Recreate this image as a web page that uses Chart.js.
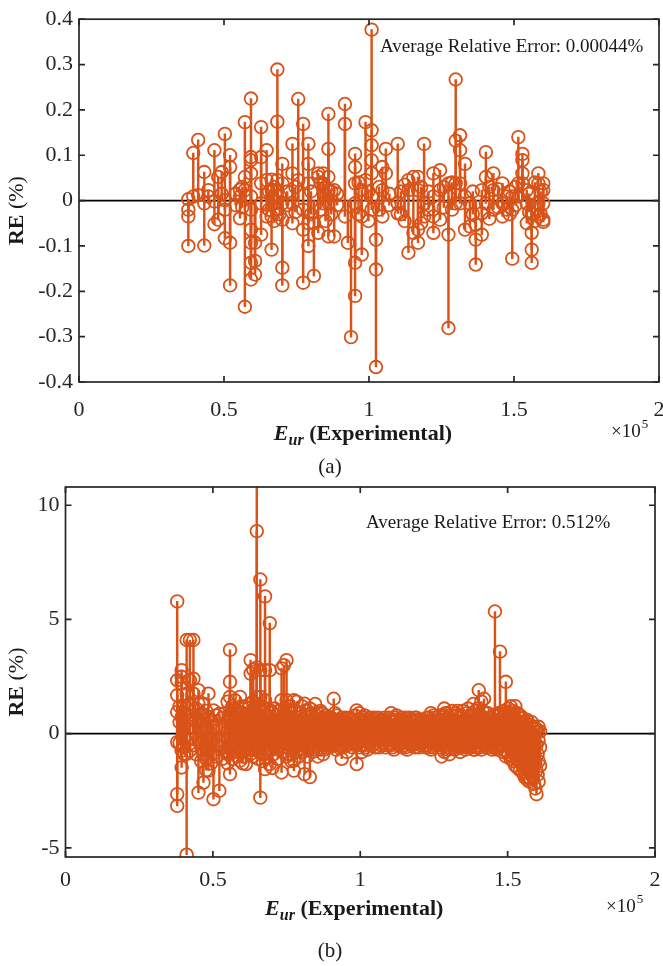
<!DOCTYPE html>
<html>
<head>
<meta charset="utf-8">
<script src="https://cdn.jsdelivr.net/npm/chart.js@4.4.1/dist/chart.umd.min.js"></script>
<style>
  html, body { margin: 0; background: #fff; overflow: hidden; }
  canvas { position: absolute; left: 0; }
</style>
</head>
<body>
<canvas id="chartA" width="700" height="480" style="top:0"></canvas>
<canvas id="chartB" width="700" height="516" style="top:450px"></canvas>
<script>
const ORANGE = '#D95319';
const AXIS = '#262626';
const SERIF = '"Liberation Serif", "Times New Roman", serif';

// panel (a): stem x positions (E_ur) and the RE (%) values drawn at each one
const stemXA = [
  37700, 39400, 41100, 43200, 44600, 46700, 48000, 49200, 50300, 52100,
  54000, 55500, 56300, 57200, 59300, 60700, 62800, 64700, 65500, 66400,
  67300, 68400, 69200, 70100, 71800, 73600, 74600, 75600, 77300, 79100,
  80000, 81000, 82500, 83300, 84200, 85000, 86000, 87000, 88000, 89000,
  91700, 92700, 93800, 95200, 96400, 97500, 98800, 99800, 100900, 102400,
  103500, 104600, 105800, 107000, 109900, 111000, 112300, 113600, 115300, 116900,
  118000, 119000, 120500, 122200, 124500, 125800, 127400, 128600, 129900, 131400,
  133100, 134800, 135800, 136800, 138900, 140300, 141500, 142900, 144500, 146000,
  147500, 148500, 149400, 150500, 151500, 152900, 154400, 155200, 156100, 157200,
  158400, 159200, 160100
];
const stemYA = [
  [0.003, -0.02, -0.035, -0.1], [0.105, 0.009], [0.134, 0.012], [0.063, -0.006, -0.099], [0.023, 0.009],
  [0.111, -0.002, -0.052], [0.052, -0.042], [0.063, 0.015], [0.147, 0.001, -0.02, -0.083], [0.1, 0.074, -0.093, -0.187],
  [0.015, -0.01], [0.024, 0.009, -0.039], [0.03, -0.015], [0.173, 0.052, 0.023, -0.234],
  [0.225, 0.096, 0.089, 0.06, 0.009, -0.02, -0.064, -0.093, -0.137, -0.174],
  [-0.093, -0.133, -0.163], [0.162, 0.096, 0.038, -0.006, -0.075], [0.111, 0.045, -0.035], [0.02, -0.02], [0.046, 0.024, -0.035, -0.108],
  [0.03, -0.045], [0.289, 0.174, 0.045, 0.023, -0.02], [0.01, -0.03], [0.081, 0.038, -0.006, -0.042, -0.148, -0.187], [0.02, -0.01],
  [0.125, 0.06, -0.006, -0.05], [0.03, -0.025], [0.224, 0.045], [0.169, -0.02, -0.064, -0.181], [0.125, 0.081, 0.038, -0.05, -0.1],
  [0.02, -0.03], [-0.05, -0.166], [0.06, 0.052, -0.071], [0.04, -0.02], [0.06, 0.038, -0.006],
  [0.03, -0.045], [0.191, 0.114, 0.052, 0.023, -0.006, -0.079], [0.02, -0.03], [0.023, -0.079], [0.015, -0.01],
  [0.213, 0.169, -0.035], [-0.093], [-0.301], [0.103, 0.074, 0.038, -0.006, -0.137, -0.21], [0.04, -0.03],
  [0.023, -0.035, -0.119], [0.173, 0.045], [0.02, -0.045], [0.377, 0.155, 0.122, 0.089, 0.06, 0.009, -0.02], [-0.086, -0.152, -0.367],
  [0.03, -0.02], [0.074, 0.023, -0.035], [0.114, 0.06], [0.015, -0.01], [0.125, -0.006, -0.028],
  [0.02, -0.03], [0.035, -0.045], [0.045, 0.023, -0.115], [0.052, -0.071], [0.052, 0.023, -0.064, -0.093],
  [0.03, -0.05], [0.125, -0.006, -0.035], [0.02, -0.02], [0.06, 0.009, -0.035, -0.071], [0.067, 0.023, -0.042],
  [0.03, -0.015], [0.038, 0.009, -0.075, -0.281], [0.04, -0.02], [0.267, 0.132, 0.038, -0.006], [0.144, 0.111, 0.038, -0.006],
  [0.081, 0.009, -0.064], [-0.006, -0.057], [0.02, -0.03], [-0.053, -0.086, -0.141], [0.023, -0.028, -0.075],
  [0.107, 0.052, -0.006], [0.03, -0.04], [0.06, 0.023, -0.02], [0.025, -0.015], [0.038, -0.006, -0.035],
  [0.009, -0.02], [0.02, -0.03], [0.009, -0.02, -0.128], [0.03, -0.01], [0.14, 0.038, 0.009],
  [0.103, 0.089, 0.06, 0.038], [0.023, -0.006, -0.05], [0.015, -0.025], [-0.028, -0.071, -0.108, -0.137], [0.04, -0.045],
  [0.06, 0.038, -0.006, -0.035], [0.02, -0.03], [0.038, 0.023, -0.006, -0.042, -0.047]
];

// panel (b)
const stemXB = [
  37900, 38700, 39400, 40300, 41100, 42200, 43400, 44300, 45100, 46000,
  46800, 47700, 48500, 49400, 50200, 51200, 52200, 53200, 54100, 55000,
  55800, 56600, 57500, 58300, 59200, 60100, 61200, 62000, 62800, 63700,
  64900, 65400, 66100, 66900, 67700, 68600, 69300, 70200, 71000, 72000,
  73300, 74100, 75000, 75800, 76600, 77500, 78400, 79300, 80200, 81100,
  82000, 82900, 83800, 84700, 85600, 86500, 87400, 88300, 89200, 90100,
  91000, 91900, 92800, 93700, 94600, 95500, 96400, 97300, 98200, 98800,
  99700, 100600, 101500, 102400, 103300, 104200, 105100, 106000, 106900, 107800,
  108700, 109600, 110500, 111400, 112300, 113200, 114100, 115000, 115900, 116800,
  117700, 118600, 119500, 120400, 121300, 122200, 123100, 124000, 124900, 125800,
  126700, 127600, 128500, 129400, 130300, 131200, 132100, 133000, 133900, 134800,
  135700, 136600, 137500, 138400, 139300, 140200, 141100, 142000, 142900, 143800,
  144700, 145700, 146500, 147400, 148300, 149400, 150200, 151000, 151800, 152600,
  153400, 154200, 155000, 155800, 156600, 157400, 158200, 159000, 159800, 160500,
  161000
];
const stemYB = [
  [5.79, 2.34, 1.68, 0.95, -0.37, -2.65, -3.16], [1.2, 0.5, -0.4], [2.78, 2.49, 2.19, 0.73, -0.74, -1.48], [1.2, 0.4, -0.6, -0.9],
  [4.1, 1.75, 0.87, -0.3, -0.89, -5.3], [4.1, 2.34, 1.31, 0.58, -0.74], [4.1, 2.41, 1.75, 0.3, -0.5], [1.1, 0.6, -0.9],
  [1.9, 1.31, -0.3, -2.58], [0.9, -0.4, -1.2],
  [1.31, 0.58, -0.89, -2.14], [1.0, 0.2, -1.1, -1.6], [1.75, 0.73, -0.74, -1.62], [0.6, -0.3, -1.3], [1.02, 0.29, -0.89, -2.87],
  [0.8, -0.5, -1.0], [0.87, -0.3, -2.5], [0.7, 0.2, -0.6, -1.1], [0.9, 0.29, -0.74], [1.4, 0.5, -0.9, -1.3],
  [3.67, 2.27, 1.61, 0.73, -0.89, -1.77], [1.2, 0.4, -0.5, -1.1], [1.46, 0.87, 0.29, -0.6], [1.0, -0.2, -1.0], [1.61, 0.58, -0.3, -1.18],
  [0.9, 0.3, -0.8, -1.3], [1.17, 0.29, -1.33], [1.1, 0.5, -0.7], [3.22, 2.63, 0.87, 0, -0.89], [2.8, 1.4, 0.6, -1.0],
  [11.8, 8.87, 2.9, 1.6, -0.6], [1.2, 0.3, -1.1], [6.75, 2.78, 1.61, -2.8], [1.0, -0.4, -1.2], [6.01, 2.78, 1.46, -0.89, -1.55],
  [0.8, -0.3], [4.84, 2.78, 0.58, -1.33], [0.9, 0.2, -0.7, -1.5], [1.1, -0.5], [0.6, -0.2, -1.1],
  [2.86, 1.46, 0.14, -1.7], [3.0, 0.8, -0.6], [3.22, 1.46, -0.3, -1.0], [1.2, 0.4, -0.9], [1.0, -0.2, -1.2],
  [1.46, -0.6, -1.18, -1.62], [1.4, 0.5, -0.8], [0.9, -0.3, -1.0], [1.2, 0.3, -0.7], [1.31, -0.5, -1.77],
  [1.0, 0.2, -1.0], [1.1, -0.3, -1.9], [0.8, 0.1, -0.8], [1.3, 0.5, -0.6], [0.9, -0.4, -1.0],
  [1.0, 0.3, -0.7], [0.7, -0.2, -0.9], [0.8, 0.1, -0.6], [0.6, -0.5], [0.7, 0.2, -0.4],
  [1.53, 0.6, -0.5], [0.8, -0.3, -0.7], [0.5, 0.1, -0.6], [0.7, -0.2, -1.1], [0.6, 0.2, -0.5],
  [0.5, -0.4, -0.8], [0.7, 0.1, -0.3], [0.4, -0.6], [0.8, 0.2, -0.4], [1.02, -0.5, -1.33],
  [0.9, 0.3, -0.6], [0.6, -0.3, -0.8], [0.8, 0.1, -0.5], [0.5, -0.2, -0.7], [0.7, 0.3, -0.4],
  [0.6, -0.5], [0.5, 0.1, -0.6], [0.7, -0.3], [0.4, 0.2, -0.5], [0.6, -0.2, -0.4],
  [0.5, 0.1, -0.6], [0.7, -0.4], [0.9, 0.3, -0.5], [0.6, -0.2, -0.7], [0.8, 0.2, -0.4],
  [0.5, -0.5], [0.7, 0.1, -0.6], [0.6, -0.3, -0.5], [0.5, 0.2, -0.7], [0.7, -0.4],
  [0.4, 0.1, -0.5], [0.7, -0.2, -0.6], [0.6, 0.3, -0.4], [0.5, -0.5], [0.6, 0.1, -0.4],
  [0.4, -0.3, -0.6], [0.7, 0.2, -0.5], [0.9, -0.4, -0.7], [0.8, 0.3, -0.6], [0.5, -0.2],
  [0.6, 0.1, -0.5], [0.7, -0.3, -1.0], [1.1, 0.4, -0.8], [0.9, 0.2, -0.6], [0.7, -0.4, -0.9],
  [1.0, 0.3, -0.5], [0.8, -0.2, -0.7], [1.0, 0.4, -0.6], [0.7, -0.3, -0.8], [1.0, 0.2, -0.5],
  [0.6, -0.4, -0.7], [1.1, 0.3, -0.5], [0.8, -0.2, -0.6], [1.3, 0.4, -0.7], [1.0, -0.3, -0.6],
  [1.9, 0.6, -0.5], [1.4, 0.2, -0.7], [1.53, 0.5, -0.4], [0.9, -0.3, -0.6], [0.7, 0.2, -0.5],
  [0.6, -0.4, -0.7], [5.35, 0.5, -0.6], [0.8, -0.3, -0.7], [3.59, 0.9, -0.5], [0.7, 0.2, -0.8],
  [2.27, 0.6, -1.0], [1.1, 0.3, -0.9], [1.2, -0.4, -1.1], [1.0, 0.2, -1.2], [1.2, -0.5, -1.4],
  [0.9, 0.3, -1.5], [0.8, -0.6, -1.6], [0.7, 0.1, -1.7], [0.5, -0.8, -1.9], [0.6, 0.0, -2.0],
  [0.4, -0.9, -2.1], [0.5, -0.2, -1.8], [0.3, -1.1, -2.2], [0.2, -0.5, -1.6, -2.65], [0.3, -0.3, -1.2, -2.1],
  [0.1, -0.6, -1.4]
];
// panel (b), stems lying between the ones above in the dense band
const midXB = [
  55400, 56200, 57100, 57900, 58700, 59600, 60600, 61600, 62400, 63300,
  64300, 65800, 66500, 67300, 68200, 69000, 69800, 70600, 71500, 72600,
  73700, 74500, 75400, 76200, 77000, 78000, 78800, 79800, 80600, 81600,
  82400, 83300, 84200, 85100, 86000, 86900, 87800, 88700, 89600, 90500,
  91400, 92300, 93200, 94100, 95000, 95900, 96800, 97700, 99200, 100100,
  101000, 101900, 102800, 103700, 104600, 105500, 106400, 107300, 108200, 109100,
  110000, 110900, 111800, 112700, 113600, 114500, 115400, 116300, 117200, 118100,
  119000, 119900, 120800, 121700, 122600, 123500, 124400, 125300, 126200, 127100,
  128000, 128900, 129800, 130700, 131600, 132500, 133400, 134300, 135200, 136100,
  137000, 137900, 138800, 139700, 140600, 141500, 142400, 143300, 144200, 145200,
  146000, 146900, 147800, 148800, 149800, 150600, 151400, 152200, 153000, 153800,
  154600, 155400, 156200, 157000, 157800, 158600, 159400, 160200
];
const midYB = [
  [0.8, -0.5], [1.0, -0.7], [0.6, -0.4, 1.1], [0.9, -0.8], [0.4, -0.6], [1.2, -0.4], [0.6, -1.0], [0.8, -0.5], [1.3, -0.3], [0.5, -0.7],
  [1.0, -0.5], [0.7, -0.8], [1.2, -0.5], [0.5, -0.9], [1.1, -0.4], [0.6, -0.7], [1.0, -0.3], [0.4, -0.9], [0.8, -0.6], [1.0, -0.4],
  [0.5, -0.8], [1.1, -0.4], [0.7, -0.6], [0.9, -0.5], [0.6, -0.9], [1.0, -0.4], [0.5, -0.7], [0.9, -0.5], [0.6, -0.8], [1.0, -0.3],
  [0.5, -0.6], [0.9, -0.5], [0.6, -0.4], [0.8, -0.7], [0.5, -0.5], [0.9, -0.4], [0.5, -0.7], [0.7, -0.3], [0.4, -0.6], [0.6, -0.4],
  [0.9, -0.2], [0.4, -0.5], [0.6, -0.3], [0.5, -0.6], [0.7, -0.2], [0.4, -0.5], [0.6, -0.4], [0.5, -0.2], [0.6, -0.4], [0.5, -0.5],
  [0.7, -0.2], [0.4, -0.6], [0.6, -0.4], [0.5, -0.3], [0.7, -0.2], [0.4, -0.4], [0.6, -0.6], [0.5, -0.2], [0.7, -0.3], [0.4, -0.5],
  [0.6, -0.3], [0.5, -0.6], [0.7, -0.3], [0.4, -0.5], [0.6, -0.2], [0.5, -0.4], [0.7, -0.6], [0.4, -0.3], [0.6, -0.5], [0.5, -0.3],
  [0.7, -0.4], [0.4, -0.6], [0.6, -0.2], [0.5, -0.5], [0.7, -0.3], [0.5, -0.6], [0.6, -0.4], [0.7, -0.5], [0.4, -0.4], [0.8, -0.6],
  [0.6, -0.4], [0.9, -0.5], [0.5, -0.7], [0.8, -0.3], [0.6, -0.6], [0.9, -0.4], [0.5, -0.5], [0.8, -0.6], [0.6, -0.3], [0.9, -0.6],
  [0.5, -0.4], [0.9, -0.5], [0.6, -0.7], [1.1, -0.4], [0.8, -0.6], [1.0, -0.3], [0.7, -0.5], [0.9, -0.4], [0.5, -0.6], [0.8, -0.4],
  [0.6, -0.5], [0.9, -0.6], [0.6, -0.4], [1.0, -0.7], [0.7, -0.8], [0.9, -0.6], [0.7, -1.0], [0.9, -0.8], [0.6, -1.1], [0.7, -1.2],
  [0.5, -1.3], [0.4, -1.5], [0.3, -1.4, -1.7], [0.2, -1.2, -1.9], [0.1, -1.0, -2.0], [0.3, -0.8, -1.9], [0.2, -1.3, -2.4], [0.1, -0.9, -1.8]
];

const xTicks = [0, 50000, 100000, 150000, 200000];
const yTicksA = [-0.4, -0.3, -0.2, -0.1, 0, 0.1, 0.2, 0.3, 0.4];
const yTicksB = [-5, 0, 5, 10];

function toPoints(xs, ys) {
  const pts = [];
  xs.forEach((x, i) => ys[i].forEach(v => pts.push({ x: x, y: v })));
  return pts;
}

// box with inward ticks on all four sides, zero line, titles and notes
const framePlugin = {
  id: 'frame',
  beforeDatasetsDraw(chart) {
    const { ctx, chartArea: a, scales: { y } } = chart;
    const y0 = y.getPixelForValue(0);
    ctx.save();
    ctx.strokeStyle = '#000';
    ctx.lineWidth = 1.7;
    ctx.beginPath();
    ctx.moveTo(a.left, y0);
    ctx.lineTo(a.right, y0);
    ctx.stroke();
    ctx.restore();
  },
  afterDraw(chart, args, o) {
    const { ctx, chartArea: a, scales: { x, y } } = chart;
    const t = 6;
    ctx.save();
    ctx.strokeStyle = AXIS;
    ctx.lineWidth = 1.7;
    ctx.strokeRect(a.left, a.top, a.right - a.left, a.bottom - a.top);
    ctx.beginPath();
    x.ticks.forEach(tk => {
      const px = x.getPixelForValue(tk.value);
      ctx.moveTo(px, a.bottom); ctx.lineTo(px, a.bottom - t);
      ctx.moveTo(px, a.top); ctx.lineTo(px, a.top + t);
    });
    y.ticks.forEach(tk => {
      const py = y.getPixelForValue(tk.value);
      ctx.moveTo(a.left, py); ctx.lineTo(a.left + t, py);
      ctx.moveTo(a.right, py); ctx.lineTo(a.right - t, py);
    });
    ctx.stroke();

    ctx.fillStyle = '#1a1a1a';
    ctx.textBaseline = 'middle';
    ctx.textAlign = 'left';
    ctx.font = '19px ' + SERIF;
    ctx.fillText(o.note, o.noteX, o.noteY);

    // x title: E_ur (Experimental)
    ctx.textBaseline = 'alphabetic';
    const parts = [
      { s: 'E', f: 'italic bold 22px ' + SERIF, dy: 0 },
      { s: 'ur', f: 'italic bold 16px ' + SERIF, dy: 5 },
      { s: ' (Experimental)', f: 'bold 22px ' + SERIF, dy: 0 }
    ];
    let w = 0;
    parts.forEach(p => { ctx.font = p.f; p.w = ctx.measureText(p.s).width; w += p.w; });
    let cx = (a.left + a.right) / 2 - 6 - w / 2;
    parts.forEach(p => { ctx.font = p.f; ctx.fillText(p.s, cx, o.titleY + p.dy); cx += p.w; });

    // exponent label
    ctx.font = '19px ' + SERIF;
    ctx.fillText('\u00d710', o.expX, o.titleY - 3);
    const ew = ctx.measureText('\u00d710').width;
    ctx.font = '13px ' + SERIF;
    ctx.fillText('5', o.expX + ew + 1, o.titleY - 12);

    // panel caption
    ctx.font = '21px ' + SERIF;
    ctx.textAlign = 'center';
    ctx.fillText(o.caption, 330, o.captionY);

    // y title: RE (%)
    ctx.translate(17, (a.top + a.bottom) / 2 + 10);
    ctx.rotate(-Math.PI / 2);
    ctx.textAlign = 'left';
    ctx.textBaseline = 'middle';
    ctx.font = 'bold 22px ' + SERIF;
    const w1 = ctx.measureText('RE').width;
    ctx.font = '22px ' + SERIF;
    const w2 = ctx.measureText(' (%)').width;
    ctx.font = 'bold 22px ' + SERIF;
    ctx.fillText('RE', -(w1 + w2) / 2, 0);
    ctx.font = '22px ' + SERIF;
    ctx.fillText(' (%)', -(w1 + w2) / 2 + w1, 0);
    ctx.restore();
  }
};

function makeChart(id, pts, p) {
  return new Chart(document.getElementById(id), {
    type: 'scatter',
    data: {
      datasets: [
        { type: 'bar', data: pts, backgroundColor: ORANGE, barThickness: 1.8, order: 2 },
        {
          type: 'scatter', data: pts, order: 1,
          pointStyle: 'circle', pointRadius: 6.3, pointBorderWidth: 1.8,
          pointBackgroundColor: 'rgba(0,0,0,0)', pointBorderColor: ORANGE
        }
      ]
    },
    options: {
      responsive: false,
      animation: false,
      events: [],
      layout: { padding: { top: p.top, right: p.right, left: 0, bottom: 0 } },
      plugins: { legend: { display: false }, tooltip: { enabled: false }, frame: p.frame },
      scales: {
        x: {
          type: 'linear', min: 0, max: 200000, offset: false,
          grid: { display: false, drawTicks: false, offset: false },
          border: { display: false },
          afterBuildTicks: s => { s.ticks = xTicks.map(v => ({ value: v })); },
          afterFit: s => { s.height = p.xHeight; },
          ticks: {
            padding: p.xPad, maxRotation: 0, autoSkip: false, color: AXIS,
            font: { family: SERIF, size: 22 },
            callback: v => String(v / 100000)
          }
        },
        y: {
          type: 'linear', min: p.yMin, max: p.yMax,
          grid: { display: false, drawTicks: false },
          border: { display: false },
          afterBuildTicks: s => { s.ticks = p.yTicks.map(v => ({ value: v })); },
          afterFit: s => { s.width = p.left; },
          ticks: {
            padding: 6, color: AXIS,
            font: { family: SERIF, size: 22 },
            callback: v => String(Math.round(v * 10) / 10)
          }
        }
      }
    },
    plugins: [framePlugin]
  });
}

makeChart('chartA', toPoints(stemXA, stemYA), {
  top: 16, right: 41, left: 79, xHeight: 98, xPad: 15,
  yMin: -0.4, yMax: 0.4, yTicks: yTicksA,
  frame: {
    note: 'Average Relative Error: 0.00044%', noteX: 380, noteY: 47,
    titleY: 440, expX: 611, caption: '(a)', captionY: 473
  }
});

makeChart('chartB', toPoints(stemXB.concat(midXB), stemYB.concat(midYB)), {
  top: 37, right: 45, left: 65.5, xHeight: 109, xPad: 10,
  yMin: -5.4, yMax: 10.8, yTicks: yTicksB,
  frame: {
    note: 'Average Relative Error: 0.512%', noteX: 366, noteY: 73,
    titleY: 465, expX: 606, caption: '(b)', captionY: 507
  }
});
</script>
</body>
</html>
